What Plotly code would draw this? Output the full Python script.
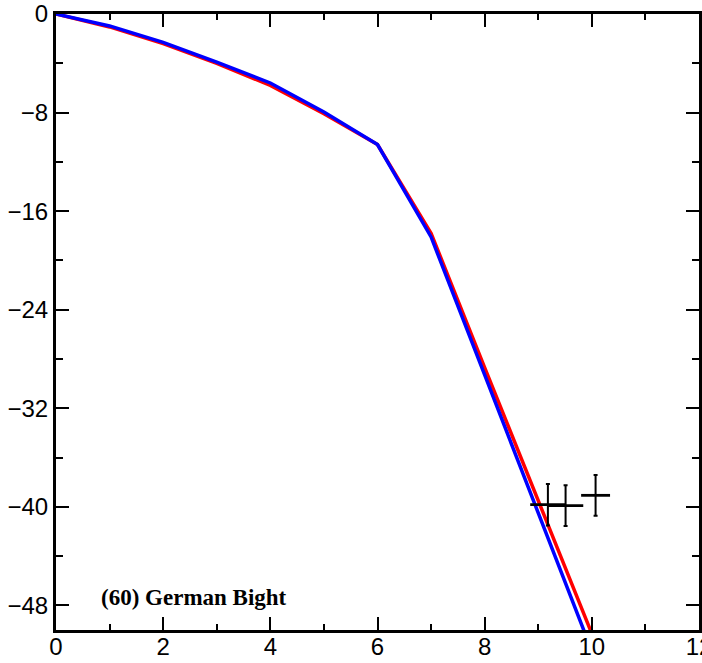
import plotly.graph_objects as go

# Model curves (depth vs x)
x_model = [0, 1, 2, 3, 4, 5, 6, 7, 8, 9, 10, 11]
y_red = [0, -1.05, -2.4, -4.0, -5.8, -8.1, -10.6, -17.8, -28.7, -39.5, -50.3, -61.1]
y_blue = [0, -0.97, -2.3, -3.9, -5.6, -7.95, -10.6, -18.1, -29.3, -40.5, -51.7, -62.9]

# Observations with error bars
x_obs = [9.18, 9.51, 10.07]
y_obs = [-39.83, -39.9, -39.07]
x_err = [0.33, 0.33, 0.27]
y_err = [1.69, 1.65, 1.65]

label_text = "(60) German Bight"

x_tickvals = [0, 2, 4, 6, 8, 10, 12]
x_ticktext = ["0", "2", "4", "6", "8", "10", "12"]
y_tickvals = [0, -8, -16, -24, -32, -40, -48]
y_ticktext = ["0", "\u22128", "\u221216", "\u221224", "\u221232", "\u221240", "\u221248"]

fig = go.Figure()
fig.add_trace(go.Scatter(x=x_model, y=y_red, mode="lines",
                         line=dict(color="#ff0000", width=3.5), showlegend=False))
fig.add_trace(go.Scatter(x=x_model, y=y_blue, mode="lines",
                         line=dict(color="#0000ff", width=3.5), showlegend=False))
fig.add_trace(go.Scatter(x=x_obs, y=y_obs, mode="markers",
                         marker=dict(size=0, color="black", opacity=0),
                         error_x=dict(type="data", array=x_err, color="black",
                                      thickness=2.8, width=0),
                         error_y=dict(type="data", array=y_err, color="black",
                                      thickness=2, width=2),
                         showlegend=False))
# invisible trace to anchor the mirror axes
fig.add_trace(go.Scatter(x=[0], y=[0], xaxis="x2", yaxis="y2", mode="markers",
                         marker=dict(opacity=0), showlegend=False, hoverinfo="skip"))

fig.add_annotation(x=0.8, y=-47.4, xref="x", yref="y", text="<b>" + label_text + "</b>",
                   showarrow=False, xanchor="left", yanchor="middle",
                   font=dict(family="Liberation Serif", size=23, color="black"))

tick_common = dict(ticks="inside", ticklen=13, tickwidth=1.5, tickcolor="black",
                   showgrid=False, zeroline=False, automargin=False)
tickfont = dict(family="Liberation Sans", size=24, color="black")

fig.update_layout(
    width=702, height=663,
    margin=dict(l=56, r=3, t=14, b=33, autoexpand=False),
    paper_bgcolor="white", plot_bgcolor="white",
    showlegend=False,
    xaxis=dict(range=[0, 12], tickmode="array", tickvals=x_tickvals, ticktext=x_ticktext,
               showline=True, linecolor="black", linewidth=3, mirror=True,
               tickfont=tickfont, ticklabeloverflow="allow", ticklabelstandoff=-7,
               minor=dict(ticks="inside", ticklen=6, dtick=1, tick0=0,
                          tickwidth=1.5, tickcolor="black", showgrid=False),
               **tick_common),
    yaxis=dict(range=[-50, 0], tickmode="array", tickvals=y_tickvals, ticktext=y_ticktext,
               showline=True, linecolor="black", linewidth=3, mirror=True,
               tickfont=tickfont, ticklabeloverflow="allow",
               minor=dict(ticks="inside", ticklen=7, dtick=4, tick0=0,
                          tickwidth=1.5, tickcolor="black", showgrid=False),
               **tick_common),
    xaxis2=dict(range=[0, 12], overlaying="x", side="top", anchor="y2",
                tickmode="array", tickvals=x_tickvals, showticklabels=False,
                showline=False,
                minor=dict(ticks="inside", ticklen=6, dtick=1, tick0=0,
                           tickwidth=1.5, tickcolor="black", showgrid=False),
                **tick_common),
    yaxis2=dict(range=[-50, 0], overlaying="y", side="right", anchor="x2",
                tickmode="array", tickvals=y_tickvals, showticklabels=False,
                showline=False,
                minor=dict(ticks="inside", ticklen=7, dtick=4, tick0=0,
                           tickwidth=1.5, tickcolor="black", showgrid=False),
                **tick_common),
)

fig.write_html("out.html", config={"displayModeBar": False},
               post_script="document.body.style.margin='0';")
